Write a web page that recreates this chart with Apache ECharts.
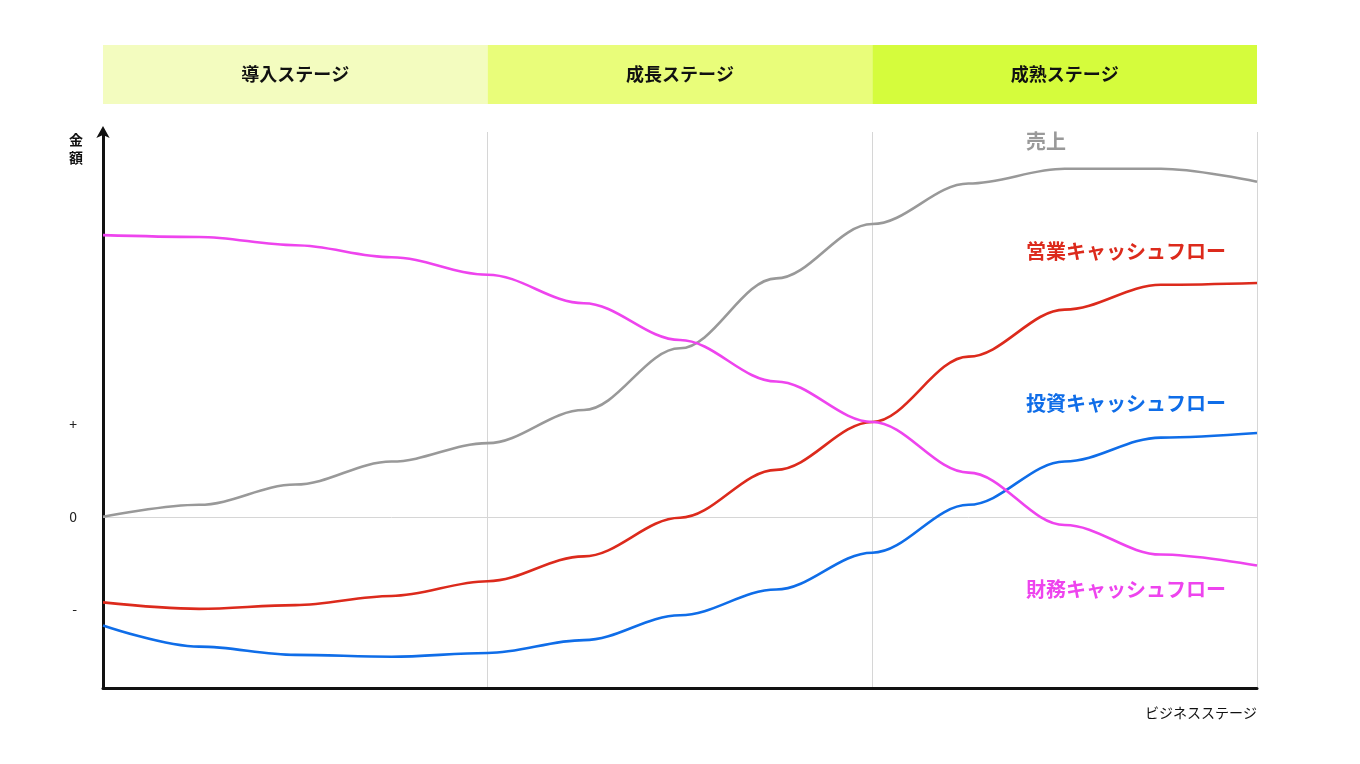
<!DOCTYPE html>
<html><head><meta charset="utf-8">
<script src="https://cdn.jsdelivr.net/npm/echarts@6/dist/echarts.min.js"></script>
<style>html,body{margin:0;background:#fff}#main{width:1360px;height:764px}</style>
</head><body><div id="main"></div>
<script>
var xs = [0, 0.25, 0.5, 0.75, 1, 1.25, 1.5, 1.75, 2, 2.25, 2.5, 2.75, 3];
var sales = [0, 0.13, 0.35, 0.60, 0.80, 1.16, 1.83, 2.59, 3.18, 3.62, 3.78, 3.78, 3.64];
var opCF = [-0.93, -1.00, -0.96, -0.86, -0.70, -0.43, -0.01, 0.51, 1.03, 1.74, 2.25, 2.52, 2.54];
var invCF = [-1.18, -1.41, -1.50, -1.52, -1.48, -1.34, -1.07, -0.79, -0.39, 0.13, 0.60, 0.86, 0.91];
var finCF = [3.06, 3.04, 2.95, 2.82, 2.63, 2.32, 1.92, 1.47, 1.03, 0.48, -0.09, -0.41, -0.53];
var stages = ['導入ステージ', '成長ステージ', '成熟ステージ'];
var stageColors = ['#f3fcbf', '#e9fd7a', '#d5fc3c'];
var yTicks = [-1, 0, 1];
var yTickLabels = {'-1': '-', '0': '0', '1': '+'};

function pts(arr) { return xs.map(function (x, i) { return [x, arr[i]]; }); }
var font = '"Noto Sans CJK JP", sans-serif';

function line(name, data, color) {
  return {
    name: name, type: 'line', smooth: 0.35, smoothMonotone: 'x', symbol: 'none',
    data: pts(data), lineStyle: {color: color, width: 2.6}, z: 5
  };
}

var option = {
  animation: false,
  textStyle: {fontFamily: font},
  grid: [
    {left: 103, right: 103, top: 132, height: 556},
    {left: 103, right: 103, top: 45, height: 59}
  ],
  xAxis: [
    {type: 'value', gridIndex: 0, min: 0, max: 3, interval: 1,
     axisLine: {onZero: false, lineStyle: {color: '#111', width: 3}}, axisTick: {show: false}, axisLabel: {show: false},
     splitLine: {show: true, lineStyle: {color: '#d6d6d6', width: 1}}},
    {type: 'value', gridIndex: 1, min: 0, max: 3, show: false}
  ],
  yAxis: [
    {type: 'value', gridIndex: 0, min: -1.86, max: 4.18,
     axisLine: {show: true, onZero: false, lineStyle: {color: '#111', width: 3}, symbol: ['none', 'arrow'], symbolSize: [10, 12], symbolOffset: [0, 6]},
     axisTick: {show: false}, splitLine: {show: false},
     axisLabel: {customValues: yTicks, margin: 26, color: '#222', fontSize: 14,
       formatter: function (v) { return yTickLabels[String(Math.round(v))]; }}},
    {type: 'value', gridIndex: 1, min: 0, max: 1, show: false}
  ],
  series: [
    {type: 'line', xAxisIndex: 1, yAxisIndex: 1, data: [], silent: true,
     markArea: {silent: true, data: stages.map(function (s, i) {
       return [{xAxis: i, yAxis: 0, name: s, itemStyle: {color: stageColors[i]}}, {xAxis: i + 1, yAxis: 1}];
     }), label: {position: 'inside', color: '#111', fontSize: 18, fontWeight: 'bold', fontFamily: font}}},
    {type: 'line', data: [], silent: true,
     markLine: {silent: true, symbol: 'none', label: {show: false},
       lineStyle: {color: '#d6d6d6', width: 1, type: 'solid'}, data: [{yAxis: 0}]}},
    line('売上', sales, '#999999'),
    line('営業キャッシュフロー', opCF, '#dc2a1c'),
    line('投資キャッシュフロー', invCF, '#0f6de8'),
    line('財務キャッシュフロー', finCF, '#ee44ee')
  ],
  graphic: [
    {type: 'text', left: 1026, top: 131, style: {text: '売上', fill: '#999', font: 'bold 20px ' + font}},
    {type: 'text', left: 1026, top: 241, style: {text: '営業キャッシュフロー', fill: '#dc2a1c', font: 'bold 20px ' + font}},
    {type: 'text', left: 1026, top: 393, style: {text: '投資キャッシュフロー', fill: '#0f6de8', font: 'bold 20px ' + font}},
    {type: 'text', left: 1026, top: 579, style: {text: '財務キャッシュフロー', fill: '#ee44ee', font: 'bold 20px ' + font}},
    {type: 'text', left: 69, top: 131, style: {text: '金\n額', fill: '#111', font: 'bold 14px ' + font, lineHeight: 18}},
    {type: 'text', right: 103, top: 706, style: {text: 'ビジネスステージ', fill: '#111', font: '14px ' + font}}
  ]
};
echarts.init(document.getElementById('main')).setOption(option);
</script></body></html>
